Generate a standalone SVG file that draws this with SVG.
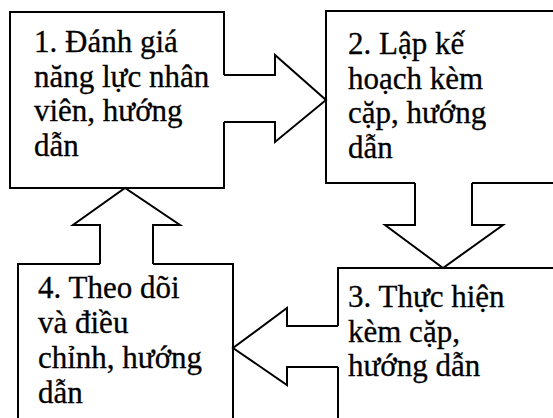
<svg xmlns="http://www.w3.org/2000/svg" width="553" height="418" viewBox="0 0 553 418">
  <style>
    .box { fill: #fff; stroke: #000; stroke-width: 2; }
    .fill { fill: #fff; stroke: none; }
    .edge { fill: none; stroke: #000; stroke-width: 2; stroke-linejoin: miter; }
    .lbl { font-family: 'Liberation Serif', 'Tinos', 'Times New Roman', 'DejaVu Serif', serif; font-size: 31px; fill: #000; stroke: #000; stroke-width: 0.3; }
  </style>

  <g id="node1">
    <rect class="box" x="10" y="12" width="214" height="176"/>
    <text class="lbl" x="34" y="52">1. Đánh giá</text>
    <text class="lbl" x="34" y="87">năng lực nhân</text>
    <text class="lbl" x="34" y="121">viên, hướng</text>
    <text class="lbl" x="34" y="156">dẫn</text>
  </g>

  <g id="node2">
    <rect class="box" x="326" y="11" width="230" height="172"/>
    <text class="lbl" x="348" y="54">2. Lập kế</text>
    <text class="lbl" x="348" y="89">hoạch kèm</text>
    <text class="lbl" x="348" y="123">cặp, hướng</text>
    <text class="lbl" x="348" y="158">dẫn</text>
  </g>

  <g id="node3">
    <rect class="box" x="338" y="268" width="220" height="156"/>
    <text class="lbl" x="348" y="307">3. Thực hiện</text>
    <text class="lbl" x="348" y="342">kèm cặp,</text>
    <text class="lbl" x="348" y="376">hướng dẫn</text>
  </g>

  <g id="node4">
    <rect class="box" x="18" y="264" width="215" height="160"/>
    <text class="lbl" x="38" y="298">4. Theo dõi</text>
    <text class="lbl" x="38" y="333">và điều</text>
    <text class="lbl" x="38" y="368">chỉnh, hướng</text>
    <text class="lbl" x="38" y="403">dẫn</text>
  </g>

  <g id="connectors">
    <!-- 1 to 2: block arrow pointing right -->
    <path class="fill" d="M222,75 H275 V55 L326,100 L275,142 V122 H222 Z"/>
    <path class="edge" d="M224,75 H275 V55 L326,100 L275,142 V122 H224"/>

    <!-- 2 to 3: block arrow pointing down -->
    <path class="fill" d="M415,181 V225 H385 L443,268 L503,225 H472 V181 Z"/>
    <path class="edge" d="M415,183 V225 H385 L443,268 L503,225 H472 V183"/>

    <!-- 3 to 4: block arrow pointing left -->
    <path class="fill" d="M340,326 H287 V308 L233,348 L287,385 V367 H340 Z"/>
    <path class="edge" d="M338,326 H287 V308 L233,348 L287,385 V367 H338"/>

    <!-- 4 to 1: block arrow pointing up -->
    <path class="fill" d="M100,266 V225 H73 L125,188 L180,225 H153 V266 Z"/>
    <path class="edge" d="M100,264 V225 H73 L125,188 L180,225 H153 V264"/>
  </g>
</svg>
